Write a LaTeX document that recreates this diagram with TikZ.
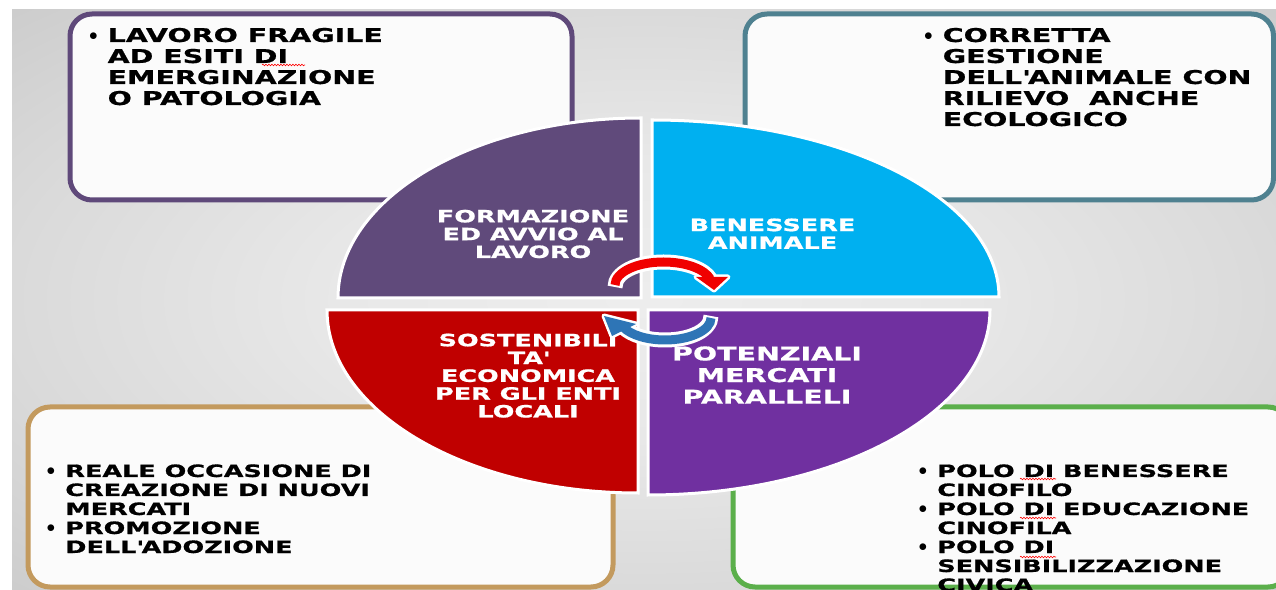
\documentclass[tikz,border=0pt]{standalone}
\usepackage{fontspec}
\usepackage{tikz}
\usetikzlibrary{arrows.meta, positioning, decorations.pathmorphing}

\newfontfamily\slidefont{DejaVu Sans}[FakeStretch=1.5, FakeBold=0.8]
\newcommand{\pallino}{\raisebox{1.5pt}{$\bullet$}}

\definecolor{formviola}{HTML}{604A7B}
\definecolor{benazzurro}{HTML}{00B0F0}
\definecolor{sostrosso}{HTML}{C00000}
\definecolor{mercviola}{HTML}{7030A0}
\definecolor{bordoviola}{HTML}{5F497A}
\definecolor{bordoteal}{HTML}{4F8190}
\definecolor{bordotan}{HTML}{C39A5E}
\definecolor{bordoverde}{HTML}{5BAF4B}
\definecolor{frecciarossa}{HTML}{F00000}
\definecolor{frecciablu}{HTML}{2E75B6}

% the path's box is mapped to the inner 50bp square of the shading
\pgfdeclareradialshading{sfondoslide}{\pgfpointorigin}{color(0bp)=(gray!14); color(12bp)=(gray!18); color(25bp)=(gray!29); color(36bp)=(gray!40); color(50bp)=(gray!40)}

\begin{document}
\begin{tikzpicture}[x=1pt, y=1pt,
  cornice/.style={line width=5pt, rounded corners=22pt, fill=white!97!gray},
  spicchio/.style={draw=white, line width=3pt},
  testobox/.style={inner sep=0pt, anchor=base west, font=\slidefont\bfseries\fontsize{19}{21}\selectfont},
  testoboxpiccolo/.style={testobox, font=\slidefont\bfseries\fontsize{17}{19}\selectfont},
  testospicchio/.style={text=white, align=center, inner sep=0pt, font=\slidefont\bfseries\fontsize{17}{17.8}\selectfont},
  segnorosso/.style={red, line width=0.6pt, decorate, decoration={snake, amplitude=0.8pt, segment length=3pt}},
  contorno/.style={white, line width=15pt},
  punta/.style={line join=round}
]
  % Canvas
  \useasboundingbox (0,0) rectangle (1276,589);
  \fill[white] (0,0) rectangle (1276,589);
  \shade[shading=sfondoslide] (12,0) rectangle (1276,579);

  % Outer boxes
  \draw[cornice, draw=bordoviola] (70,389) rectangle (572,575);
  \draw[cornice, draw=bordoteal] (745,389) rectangle (1273.5,575);
  \draw[cornice, draw=bordotan] (28,2) rectangle (613,182);
  \draw[cornice, draw=bordoverde] (733,2) rectangle (1290,182);

  % Box texts
  \node[testobox] (lavoroFragile) at (88.8,547) {\begin{tabular}[t]{@{}l@{\hspace{10pt}}l@{}}
    \pallino & LAVORO FRAGILE\\
             & AD ESITI DI\\
             & EMERGINAZIONE\\
             & O PATOLOGIA
  \end{tabular}};
  \node[testobox] (gestioneAnimale) at (923.9,547) {\begin{tabular}[t]{@{}l@{\hspace{10pt}}l@{}}
    \pallino & CORRETTA\\
             & GESTIONE\\
             & DELL\textquotesingle ANIMALE CON\\
             & RILIEVO~ ANCHE\\
             & ECOLOGICO
  \end{tabular}};
  \node[testoboxpiccolo] (nuoviMercati) at (46.5,112) {\begin{tabular}[t]{@{}l@{\hspace{10pt}}l@{}}
    \pallino & REALE OCCASIONE DI\\
             & CREAZIONE DI NUOVI\\
             & MERCATI\\
    \pallino & PROMOZIONE\\
             & DELL\textquotesingle ADOZIONE
  \end{tabular}};
  \node[testoboxpiccolo] (poliCinofili) at (918.5,112) {\begin{tabular}[t]{@{}l@{\hspace{10pt}}l@{}}
    \pallino & POLO DI BENESSERE\\
             & CINOFILO\\
    \pallino & POLO DI EDUCAZIONE\\
             & CINOFILA\\
    \pallino & POLO DI\\
             & SENSIBILIZZAZIONE\\
             & CIVICA
  \end{tabular}};

  % Spell-check marks
  \draw[segnorosso] (262,524) -- (305,524);
  \draw[segnorosso] (1020,110) -- (1056,110);
  \draw[segnorosso] (1020,71) -- (1056,71);
  \draw[segnorosso] (1020,32) -- (1056,32);

  % Quadrants
  \filldraw[spicchio, fill=formviola] (641,291) -- (338,291) arc[start angle=180, end angle=90, x radius=303pt, y radius=180pt] -- cycle;
  \filldraw[spicchio, fill=benazzurro] (652,292) -- (652,469) arc[start angle=90, end angle=0, x radius=347pt, y radius=177pt] -- cycle;
  \filldraw[spicchio, fill=sostrosso] (638,279) -- (327,279) arc[start angle=180, end angle=270, x radius=311pt, y radius=183pt] -- cycle;
  \filldraw[spicchio, fill=mercviola] (648,279) -- (648,94) arc[start angle=270, end angle=360, x radius=342pt, y radius=185pt] -- cycle;

  % Quadrant texts
  \node[testospicchio] (formazione) at (533,355) {FORMAZIONE\\ED AVVIO AL\\LAVORO};
  \node[testospicchio] (benessere) at (772.5,355.3) {BENESSERE\\ANIMALE};
  \node[testospicchio] (sostenibilita) at (528,213.3) {SOSTENIBILI\\TA\textquotesingle\\ECONOMICA\\PER GLI ENTI\\LOCALI};
  \node[testospicchio, font=\slidefont\bfseries\fontsize{19}{21.6}\selectfont] (mercati) at (767,214) {POTENZIALI\\MERCATI\\PARALLELI};

  % Cycle arrows
  \coordinate (codaRossa) at (615,304);
  \coordinate (codaBlu) at (711,271);
  \draw[contorno, shorten <=-2pt] (codaRossa) arc[start angle=180, end angle=15, x radius=48.5pt, y radius=23pt];
  \filldraw[punta, draw=white, fill=white, line width=5pt] (696,312) -- (728,312) -- (714,299) -- cycle;
  \draw[contorno, shorten <=-2pt] (codaBlu) arc[start angle=0, end angle=-155, x radius=46pt, y radius=22pt];
  \filldraw[punta, draw=white, fill=white, line width=5pt] (612,253) -- (636,265) -- (604,273) -- cycle;

  \draw[frecciarossa, line width=9pt] (codaRossa) arc[start angle=180, end angle=15, x radius=48.5pt, y radius=23pt];
  \fill[frecciarossa] (696,312) -- (728,312) -- (714,299) -- cycle;
  \draw[frecciablu, line width=9pt] (codaBlu) arc[start angle=0, end angle=-155, x radius=46pt, y radius=22pt];
  \fill[frecciablu] (612,253) -- (636,265) -- (604,273) -- cycle;
\end{tikzpicture}
\end{document}
